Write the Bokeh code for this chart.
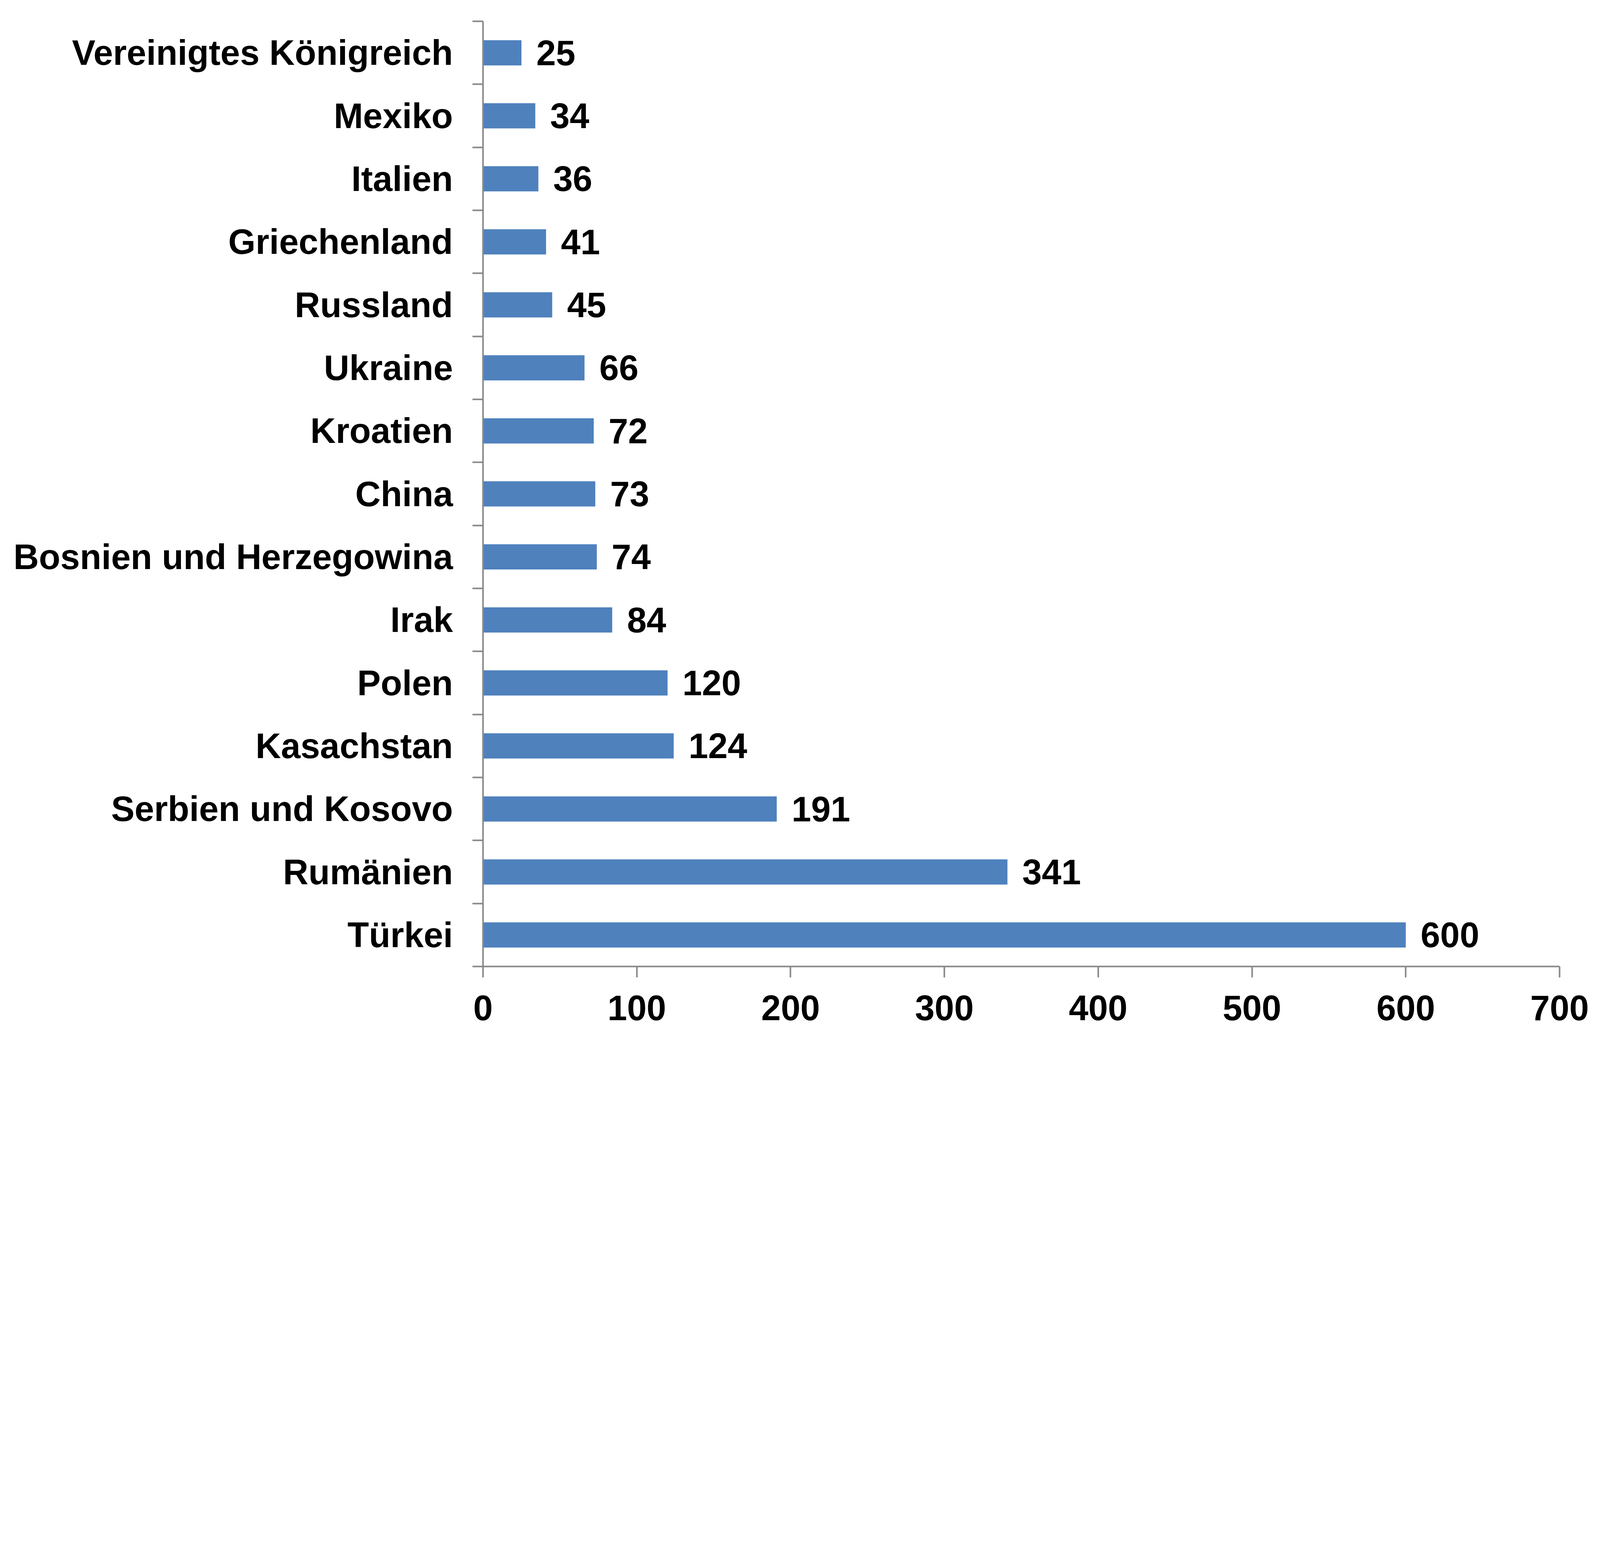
from bokeh.plotting import figure
from bokeh.models import Range1d, FixedTicker, ColumnDataSource
from bokeh.core.properties import value
from bokeh.embed import file_html
from bokeh.resources import INLINE

# Data (top to bottom as shown)
countries = ["Vereinigtes Königreich", "Mexiko", "Italien", "Griechenland", "Russland",
             "Ukraine", "Kroatien", "China", "Bosnien und Herzegowina", "Irak",
             "Polen", "Kasachstan", "Serbien und Kosovo", "Rumänien", "Türkei"]
values = [25, 34, 36, 41, 45, 66, 72, 73, 74, 84, 120, 124, 191, 341, 600]
x_ticks = [0, 100, 200, 300, 400, 500, 600, 700]

# bottom-up order for numeric positions
cats_bu = countries[::-1]
vals_bu = values[::-1]
n = len(cats_bu)
pos = list(range(n))

FONT = "Liberation Sans"
FS = "90px"
GRAY = "#888888"
BLUE = "#4F81BD"

src = ColumnDataSource(dict(y=pos, v=vals_bu, label=[str(v) for v in vals_bu]))

p = figure(width=4116, height=2656, output_backend="svg", toolbar_location=None,
           x_range=Range1d(0, 700), y_range=Range1d(-0.5, n - 0.5),
           min_border_left=1236, min_border_right=124, min_border_top=54, min_border_bottom=182)
p.outline_line_color = None
p.background_fill_color = "white"
p.border_fill_color = "white"
p.xgrid.visible = False
p.ygrid.visible = False

p.hbar(y="y", left=0, right="v", height=0.4, source=src, fill_color=BLUE, line_color=None)
p.text(x="v", y="y", text="label", source=src, x_offset=38, text_align="left",
       text_baseline="middle", text_font=value(FONT), text_font_size=value(FS),
       text_font_style="bold", text_color="black")

# X axis
xa = p.xaxis[0]
xa.ticker = FixedTicker(ticks=x_ticks, minor_ticks=[])
xa.axis_line_color = GRAY
xa.axis_line_width = 4
xa.major_tick_line_color = GRAY
xa.major_tick_line_width = 4
xa.major_tick_in = 0
xa.major_tick_out = 28
xa.minor_tick_line_color = None
xa.major_label_text_font = FONT
xa.major_label_text_font_size = FS
xa.major_label_text_font_style = "bold"
xa.major_label_text_color = "black"
xa.major_label_standoff = 46

# Y axis: labels at centers, ticks at category boundaries
ya = p.yaxis[0]
ya.ticker = FixedTicker(ticks=pos, minor_ticks=[i - 0.5 for i in range(n + 1)])
ya.major_label_overrides = {i: c for i, c in enumerate(cats_bu)}
ya.axis_line_color = GRAY
ya.axis_line_width = 4
ya.major_tick_line_color = None
ya.major_tick_in = 0
ya.major_tick_out = 0
ya.minor_tick_line_color = GRAY
ya.minor_tick_line_width = 4
ya.minor_tick_in = 0
ya.minor_tick_out = 27
ya.major_label_text_font = FONT
ya.major_label_text_font_size = FS
ya.major_label_text_font_style = "bold"
ya.major_label_text_color = "black"
ya.major_label_standoff = 50

open("out.html", "w").write(file_html(p, INLINE))
